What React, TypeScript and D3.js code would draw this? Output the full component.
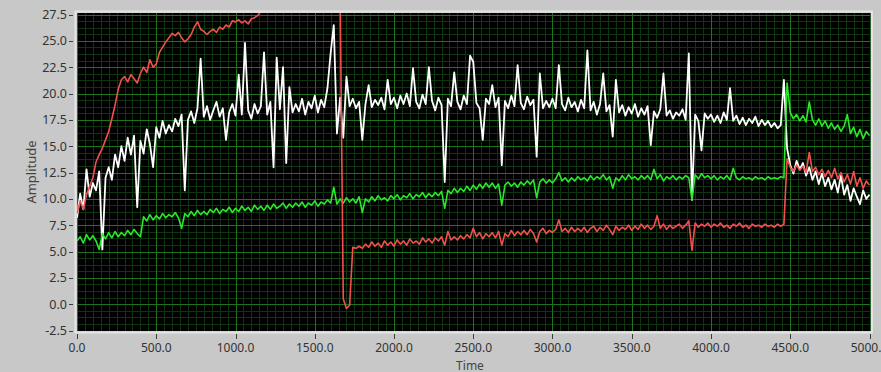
import React from "react";
import * as d3 from "d3";

const width = 881;
const height = 372;
const plot = { left: 77, right: 869.5, top: 14.5, bottom: 330.5 };

// samples every 20 time units, 0..5000
const step = 20;

const whiteValues = [
  8.2, 10.5, 9.0, 12.8, 10.2, 11.5, 10.8, 12.6, 5.2, 12.0,
  13.0, 11.8, 14.2, 13.0, 15.0, 13.6, 15.8, 14.2, 16.0, 9.2,
  15.5, 14.3, 16.6, 15.2, 13.0, 16.8, 15.8, 17.4, 16.2, 17.0,
  16.4, 17.6, 16.9, 18.0, 10.8, 17.5, 18.3, 17.2, 18.6, 23.3,
  17.8, 18.8, 17.5, 18.4, 19.2, 17.8, 18.6, 15.6, 18.2, 19.0,
  17.9, 21.8, 18.0, 24.8, 18.4, 17.6, 19.0, 18.1, 18.8, 23.9,
  18.0, 19.2, 13.0, 23.4, 18.5, 22.5, 13.4, 20.6, 18.2, 19.0,
  18.3, 19.5, 18.0, 19.2, 18.6, 19.8, 18.2, 19.4, 18.7, 20.5,
  23.8, 26.5, 16.2, 19.6, 15.8, 21.6, 18.8, 19.5, 18.6, 19.2,
  15.6, 19.0, 20.8, 18.7, 19.4, 18.9, 19.6, 18.5, 21.3, 19.0,
  19.6, 18.6, 19.8, 19.0, 20.0, 18.8, 22.4, 19.2, 18.6, 19.9,
  19.0, 22.5, 19.3, 18.4, 19.6, 18.9, 11.6, 19.5, 18.8, 22.0,
  19.2, 18.5, 19.8, 19.0, 23.6, 23.0, 19.1, 18.6, 15.6, 19.5,
  19.0, 20.8, 18.7, 19.6, 13.2, 19.3, 18.6, 19.8, 18.8, 22.7,
  19.1, 18.5, 19.7, 18.9, 19.4, 14.0, 21.9, 18.6, 19.3, 18.7,
  19.5, 18.6, 22.7, 19.0, 18.4, 19.6, 18.7, 19.2, 18.3, 19.4,
  18.6, 24.1, 18.4, 19.2, 18.0, 19.0, 21.9, 18.3, 18.9, 15.9,
  21.3, 18.2, 18.9, 17.9, 18.7, 18.1, 19.0, 17.8, 18.6, 18.0,
  18.8, 15.1, 18.3, 17.7, 18.5, 21.9, 17.9, 18.4, 17.6, 18.2,
  17.9, 18.5, 17.5, 23.8, 9.9, 18.0, 17.4, 14.6, 18.1, 17.6,
  18.0, 17.3, 17.9, 17.2, 18.2, 17.5, 20.5, 17.4, 17.9, 17.1,
  17.7, 17.0, 17.6, 17.2, 17.8, 16.9, 17.5, 17.0, 17.4, 16.8,
  17.2, 16.7, 17.0, 21.3, 14.8, 13.2, 12.4, 13.6, 12.8, 13.4,
  12.2, 13.0, 11.8, 12.6, 11.4, 12.4, 11.2, 12.0, 10.9, 11.8,
  10.6, 12.2, 10.4, 11.3, 9.8, 11.0, 10.2, 9.5, 10.8, 10.0,
  10.4,
];

const greenValues = [
  6.0, 6.4, 5.8, 6.6, 6.1, 6.5, 6.0, 5.2, 6.7, 6.2,
  6.8, 6.3, 6.9, 6.4, 6.8, 6.5, 7.0, 6.6, 7.1, 6.7,
  6.4, 8.3, 7.9, 8.5, 8.0, 8.4, 8.1, 8.6, 8.2, 8.5,
  8.3, 8.7, 8.2, 7.2, 8.6, 8.3, 8.8, 8.4, 8.9, 8.5,
  8.8, 8.5, 9.0, 8.7, 9.1, 8.6, 9.0, 8.8, 9.2, 8.7,
  9.1, 8.8, 9.3, 8.9, 9.2, 8.8, 9.4, 9.0, 9.3, 8.9,
  9.4, 9.0, 9.5, 9.1, 9.3, 9.6, 9.1, 9.5, 9.2, 9.6,
  9.3, 9.7, 9.2, 9.6, 9.4, 9.8, 9.3, 9.7, 9.5, 9.9,
  9.6, 11.1, 9.5, 10.0, 9.6, 10.1, 9.7, 10.0, 9.6, 10.2,
  8.7, 10.0, 9.7, 10.2, 9.8, 10.3, 9.9, 10.1, 9.8, 10.3,
  10.0, 10.4, 9.9, 10.3, 10.1, 10.5, 10.0, 10.4, 10.2, 10.6,
  10.1, 10.5, 10.2, 10.6, 10.3, 10.7, 9.1, 10.8, 10.5, 11.0,
  10.6, 11.0, 10.7, 11.2, 10.8, 11.3, 10.9, 11.4, 11.0, 11.5,
  11.1, 11.5, 11.0, 11.4, 9.4, 11.3, 11.6, 11.2, 11.5, 11.1,
  11.6, 11.3, 11.7, 11.4, 11.8, 10.1, 11.6, 11.9, 11.5, 11.8,
  11.5, 11.9, 12.5, 11.7, 12.0, 11.6, 12.0, 11.7, 12.1, 11.8,
  12.0, 11.7, 12.2, 11.8, 12.1, 11.9, 12.3, 11.8, 12.1, 11.0,
  12.0, 11.7, 12.2, 11.8, 12.3, 11.9, 12.1, 11.8, 12.2, 11.9,
  12.2, 11.8, 12.8, 11.9, 12.3, 11.7, 12.1, 11.9, 12.2, 11.8,
  12.1, 11.9, 12.2, 12.0, 9.9, 12.3, 11.9, 12.4, 12.0, 12.2,
  11.9, 12.2, 11.8, 12.1, 11.9, 12.2, 11.8, 12.9, 12.0, 11.8,
  12.1, 11.9, 12.0, 11.8, 12.1, 11.9, 12.0, 11.8, 12.1, 11.9,
  12.0, 11.9, 12.1, 12.0, 21.0, 18.2, 17.6, 18.0, 17.4, 17.9,
  17.3, 19.2, 17.5, 17.0, 17.6, 16.9, 17.4, 16.7, 17.2, 16.6,
  17.0, 16.4, 16.9, 18.0, 16.2, 16.8, 15.9, 16.6, 15.7, 16.4,
  16.0,
];

const redValues = [
  8.6, 9.8, 9.0, 10.4, 11.2, 12.0, 13.5, 14.2, 14.8, 15.6,
  16.4, 17.6, 18.9, 20.4, 21.3, 21.6, 21.1, 21.8, 21.4, 21.0,
  21.9, 22.5, 22.0, 23.2, 22.5, 22.8, 23.9, 24.4, 24.9, 25.3,
  25.7, 25.5, 25.8, 25.3, 24.9, 25.2, 25.6, 26.3, 26.8, 26.1,
  25.9, 25.6, 25.9, 26.1, 25.8, 26.3, 26.1, 26.5, 26.3, 26.9,
  26.8, 27.0, 26.7, 26.9, 26.6, 27.1, 27.2, 27.4, 27.8, 28.1,
  28.3, 28.6, 28.4, 28.8, 28.5, 28.9, 28.6, 29.0, 28.7, 29.1,
  28.8, 29.2, 28.9, 29.3, 29.0, 29.4, 29.1, 29.5, 29.2, 29.4,
  29.3, 29.5, 29.2, 29.4, 0.5, -0.4, -0.1, 5.4, 5.3, 5.5,
  5.3, 5.7, 5.4, 5.9, 5.5, 5.8, 5.4, 6.0, 5.6, 5.9,
  5.5, 6.1, 5.7, 6.0, 5.6, 6.2, 5.8, 6.0, 5.7, 6.3,
  5.9, 6.2, 5.8, 6.3, 6.0, 6.4, 5.6, 6.9, 6.1, 6.4,
  6.1, 6.5, 6.2, 6.6, 6.3, 7.2, 6.4, 6.8, 6.2, 6.7,
  6.4, 6.8, 6.3, 6.9, 5.6, 6.7, 6.4, 7.0, 6.5, 6.9,
  6.6, 7.0, 6.6, 7.1, 6.7, 5.9, 6.9, 7.2, 6.7, 7.0,
  6.8, 7.1, 8.0, 6.9, 7.2, 6.8, 7.3, 6.9, 7.2, 6.9,
  7.3, 6.8, 7.2, 7.4, 6.9, 7.3, 7.0, 7.5, 7.1, 6.6,
  7.4, 7.0, 7.3, 7.1, 7.5, 7.0, 7.4, 7.1, 7.6, 7.2,
  7.5, 7.1, 7.4, 8.4, 7.2, 7.6, 7.1, 7.5, 7.2, 7.4,
  7.6, 7.2, 7.5, 7.9, 5.1, 7.7, 7.3, 7.6, 7.4, 7.7,
  7.3, 7.6, 7.4, 7.7, 7.3, 7.5, 7.2, 7.6, 7.4, 7.7,
  7.3, 7.5, 7.2, 7.6, 7.4, 7.5, 7.3, 7.6, 7.4, 7.5,
  7.3, 7.6, 7.4, 7.6, 13.8, 13.0, 12.6, 13.2, 12.7, 13.1,
  12.5, 14.4, 12.6, 13.0, 12.3, 12.8, 12.1, 12.7, 12.0, 12.9,
  11.9, 12.5, 11.6, 12.3, 11.4, 12.6, 11.2, 12.0, 11.0, 11.7,
  11.3,
];

const xTicks = [0, 500, 1000, 1500, 2000, 2500, 3000, 3500, 4000, 4500, 5000];
const yTicks = [-2.5, 0, 2.5, 5, 7.5, 10, 12.5, 15, 17.5, 20, 22.5, 25, 27.5];

const series = [
  { name: "white", values: whiteValues, color: "#ffffff", w: 1.8 },
  { name: "green", values: greenValues, color: "#2ae82a", w: 1.6 },
  { name: "red", values: redValues, color: "#f2504e", w: 1.6 },
];

const font = "'Noto Sans', 'Open Sans', sans-serif";

export default function App() {
  const x = d3.scaleLinear().domain([0, 5000]).range([plot.left, plot.right]);
  const y = d3.scaleLinear().domain([-2.5, 27.5]).range([plot.bottom, plot.top]);

  const line = d3
    .line<number>()
    .x((_, i) => x(i * step))
    .y((d) => y(d));

  const minorX = d3.range(0, 5001, 50);
  const minorY = d3.range(-2.5, 27.51, 0.625);

  const px = plot.left;
  const py = plot.top - 1.5;
  const pw = plot.right - plot.left + 1;
  const ph = plot.bottom - plot.top + 2;

  // snap grid lines to the pixel grid
  const sx = (t: number) => Math.round(x(t)) + 0.5;
  const sy = (v: number) => Math.round(y(v)) + 0.5;

  return (
    <svg
      width={width}
      height={height}
      style={{ position: "absolute", left: 0, top: 0, display: "block" }}
    >
      <rect width={width} height={height} fill="#c8c8c8" />
      <defs>
        <clipPath id="plotClip">
          <rect x={px} y={py} width={pw} height={ph} />
        </clipPath>
      </defs>
      {/* frame */}
      <rect x={px - 1.5} y={py - 1.5} width={pw + 3} height={ph + 3} fill="none" stroke="#e4e4e4" strokeWidth={2} />
      <rect x={px} y={py} width={pw} height={ph} fill="#000" />

      <g clipPath="url(#plotClip)" shapeRendering="crispEdges">
        {minorX.map((t) => (
          <line key={"mx" + t} x1={sx(t)} x2={sx(t)} y1={py} y2={py + ph} stroke="#0e360e" strokeWidth={1} />
        ))}
        {minorY.map((v) => (
          <line key={"my" + v} x1={px} x2={px + pw} y1={sy(v)} y2={sy(v)} stroke="#0e360e" strokeWidth={1} />
        ))}
        {xTicks.map((t) => (
          <line key={"gx" + t} x1={sx(t)} x2={sx(t)} y1={py} y2={py + ph} stroke="#1d741d" strokeWidth={1} />
        ))}
        {yTicks.map((v) => (
          <line key={"gy" + v} x1={px} x2={px + pw} y1={sy(v)} y2={sy(v)} stroke="#1d741d" strokeWidth={1} />
        ))}
      </g>
      <g clipPath="url(#plotClip)">
        {series.map((s) => (
          <path
            key={s.name}
            d={line(s.values) || ""}
            fill="none"
            stroke={s.color}
            strokeWidth={s.w}
            strokeLinejoin="round"
          />
        ))}
      </g>

      {/* y axis */}
      {yTicks.map((v) => (
        <g key={"yt" + v}>
          <line x1={plot.left - 8} x2={plot.left - 4} y1={sy(v)} y2={sy(v)} stroke="#3c3c3c" strokeWidth={1} shapeRendering="crispEdges" />
          <text
            x={plot.left - 10}
            y={y(v)}
            dy="0.35em"
            textAnchor="end"
            fontFamily={font}
            fontSize={12.5}
            fill="#333"
          >
            {v.toFixed(1)}
          </text>
        </g>
      ))}
      <text
        transform={`translate(31, 172) rotate(-90)`}
        textAnchor="middle"
        fontFamily={font}
        fontSize={13}
        fill="#444"
        dy="0.35em"
      >
        Amplitude
      </text>

      {/* x axis */}
      {xTicks.map((t) => (
        <g key={"xt" + t}>
          <line x1={sx(t)} x2={sx(t)} y1={plot.bottom + 3} y2={plot.bottom + 8} stroke="#3c3c3c" strokeWidth={1} shapeRendering="crispEdges" />
          <text
            x={x(t)}
            y={351.5}
            textAnchor="middle"
            fontFamily={font}
            fontSize={12}
            fill="#333"
          >
            {t.toFixed(1)}
          </text>
        </g>
      ))}
      <text x={470} y={369.5} textAnchor="middle" fontFamily={font} fontSize={12} fill="#444">
        Time
      </text>
    </svg>
  );
}
